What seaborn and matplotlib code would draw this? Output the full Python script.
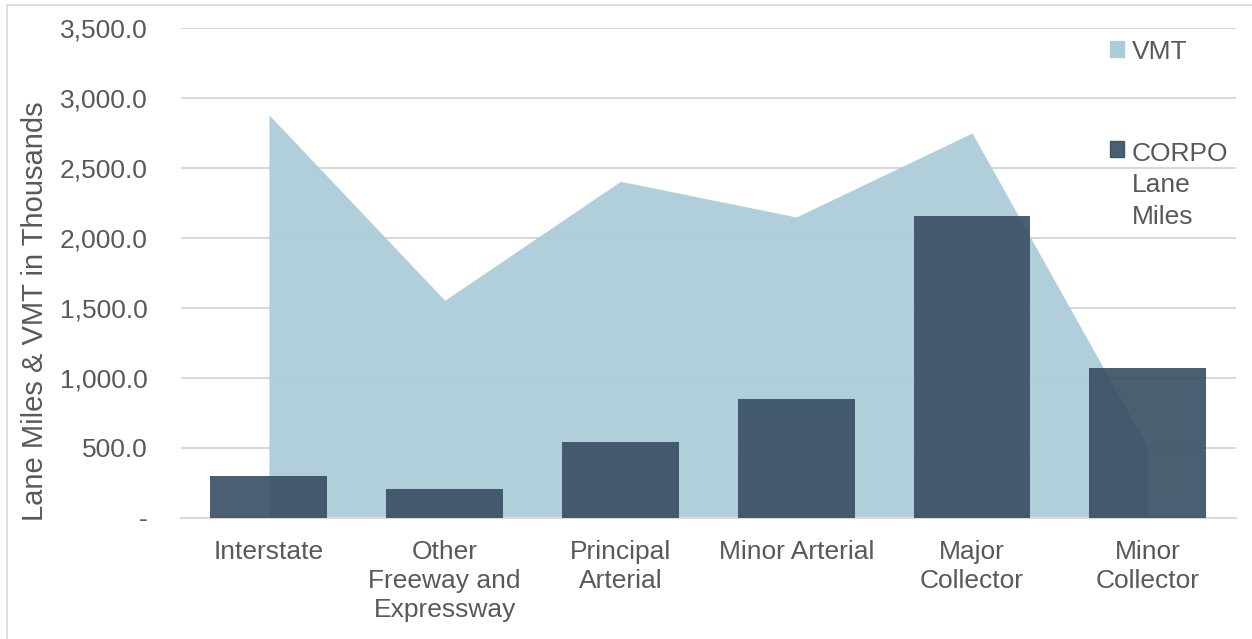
import matplotlib
matplotlib.use("Agg")
import matplotlib.pyplot as plt
import matplotlib.patches as mpatches
from matplotlib.legend_handler import HandlerPatch
from matplotlib.ticker import FuncFormatter
import seaborn as sns
import pandas as pd

categories = ["Interstate", "Other\nFreeway and\nExpressway", "Principal\nArterial",
              "Minor Arterial", "Major\nCollector", "Minor\nCollector"]
vmt = [2880, 1555, 2405, 2150, 2750, 505]
lane_miles = [300, 207, 543, 850, 2157, 1071]

AREA_COLOR = "#abcbd9"
BAR_COLOR = "#33495f"
TEXT_COLOR = "#595959"
GRID_COLOR = "#d9d9d9"
FONT_SIZE = 19

sns.set_theme(style="white")
plt.rcParams["font.family"] = ["Liberation Sans", "DejaVu Sans"]

fig = plt.figure(figsize=(12.52, 6.39), dpi=100)
ax = fig.add_axes([0.1446, 0.1894, 0.8424, 0.7668])

df = pd.DataFrame({"category": categories, "vmt": vmt, "lane_miles": lane_miles})
x = list(range(len(categories)))

ax.set_axisbelow(True)
ax.yaxis.grid(True, color=GRID_COLOR, linewidth=1.5)
ax.fill_between(x, df["vmt"], 0, color=AREA_COLOR, alpha=0.93, linewidth=0, zorder=2)
sns.barplot(data=df, x="category", y="lane_miles", color=BAR_COLOR, alpha=0.88,
            width=0.665, saturation=1, linewidth=0, ax=ax, zorder=3)

ax.set_xlim(-0.5, len(categories) - 0.5)
ax.set_ylim(0, 3500)
ax.set_yticks(range(0, 3501, 500))
ax.yaxis.set_major_formatter(FuncFormatter(lambda v, p: "-" if v == 0 else f"{v:,.1f}"))

for side in ("top", "right", "left"):
    ax.spines[side].set_visible(False)
ax.spines["bottom"].set_color(GRID_COLOR)
ax.spines["bottom"].set_linewidth(1.5)

ax.tick_params(axis="y", length=0, pad=24, labelsize=FONT_SIZE, labelcolor=TEXT_COLOR)
ax.tick_params(axis="x", length=0, pad=15.5, labelsize=FONT_SIZE, labelcolor=TEXT_COLOR)
for lbl in ax.get_xticklabels():
    lbl.set_linespacing(1.28)

ax.set_xlabel("")
ax.set_ylabel("Lane Miles & VMT in Thousands", fontsize=21, color=TEXT_COLOR, labelpad=7.5)
ax.yaxis.label.set_y(0.422)


def top_line_patch(shift):
    # square legend key aligned with the first line of a wrapped label
    def make(legend, orig_handle, xdescent, ydescent, width, height, fontsize):
        return mpatches.Rectangle((-xdescent, -ydescent + shift), width, height)
    return HandlerPatch(patch_func=make)


vmt_handle = mpatches.Patch(color=AREA_COLOR)
lane_handle = mpatches.Patch(color=BAR_COLOR, alpha=0.88)
leg = ax.legend([vmt_handle, lane_handle], ["VMT", "CORPO\nLane\nMiles"], loc="upper left",
                bbox_to_anchor=(0.8705, 0.998), frameon=False, fontsize=FONT_SIZE,
                handlelength=0.53, handleheight=0.53, handletextpad=0.3,
                labelspacing=2.98, borderaxespad=0,
                handler_map={lane_handle: top_line_patch(26.2)})
for t in leg.get_texts():
    t.set_color(TEXT_COLOR)
    t.set_linespacing(1.38)

fig.patches.append(mpatches.Rectangle((0.0056, -0.01), 1.2, 1.002, transform=fig.transFigure,
                                      fill=False, edgecolor=GRID_COLOR, linewidth=1.2))

fig.savefig("out.png", dpi=100)
